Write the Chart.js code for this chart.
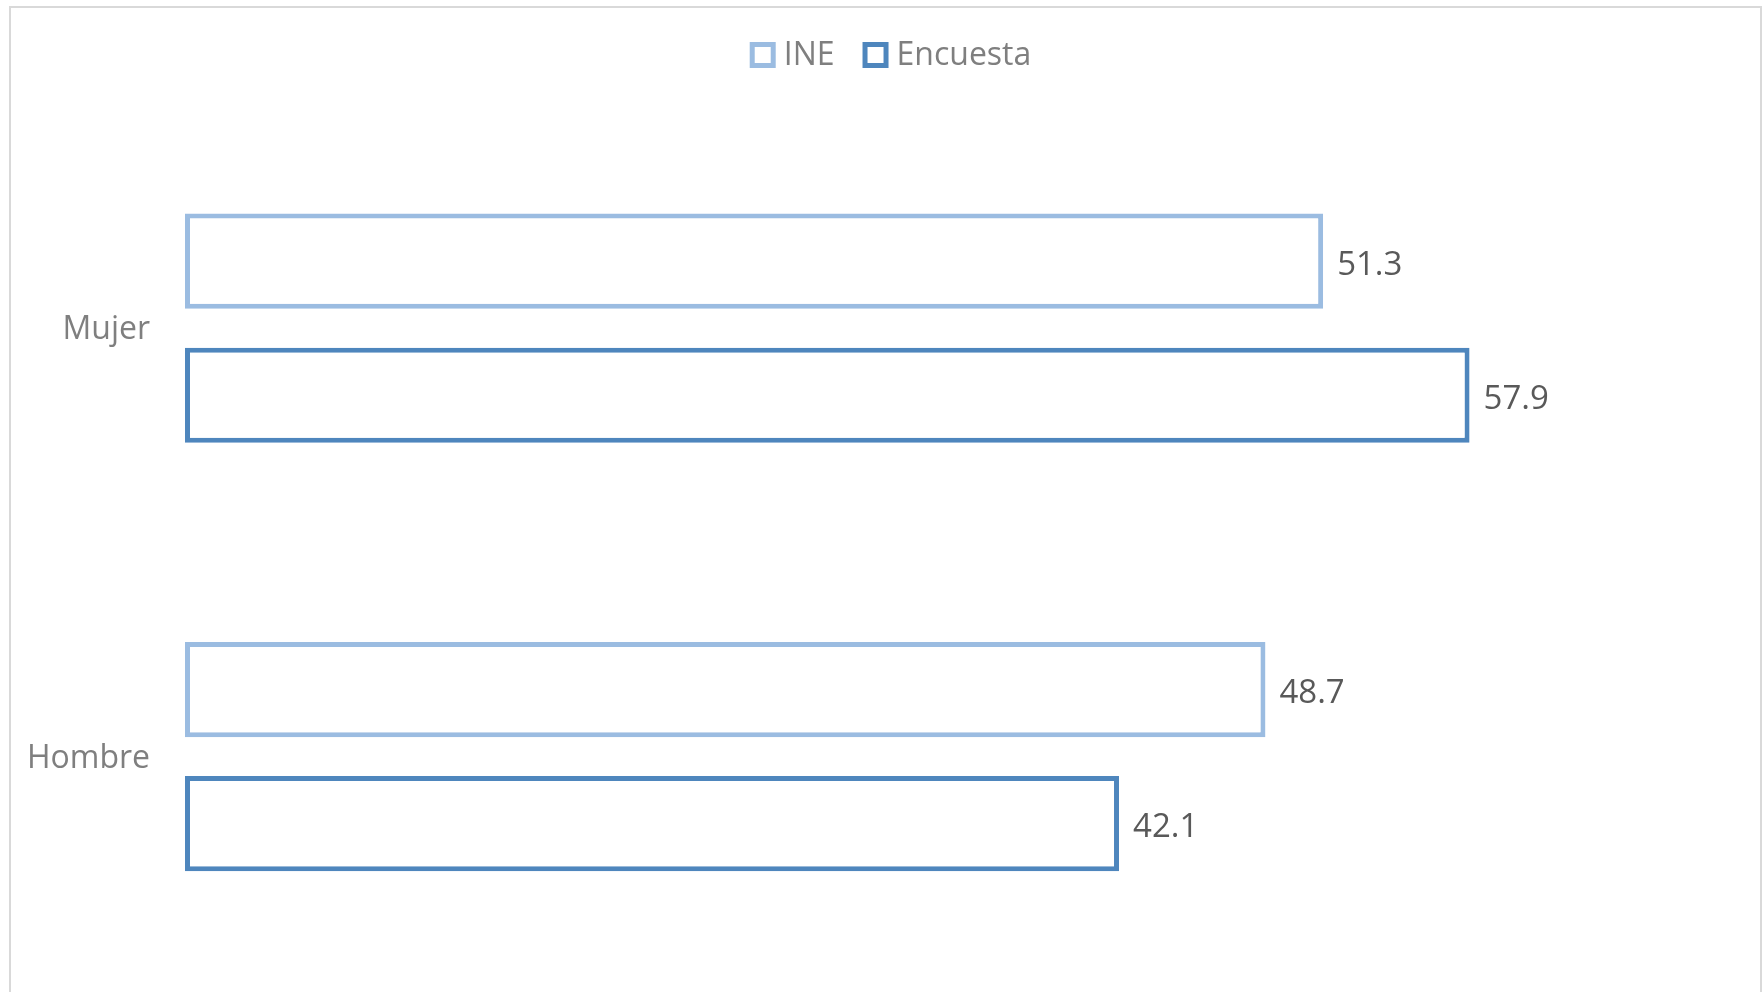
<!DOCTYPE html>
<html lang="es">
<head>
    <meta charset="UTF-8">
    <title>INE vs Encuesta</title>
    <style>
        html, body {
            margin: 0;
            padding: 0;
            background: #ffffff;
            overflow: hidden;
        }

        .frame {
            position: absolute;
            left: 9px;
            top: 6px;
            width: 1749px;
            height: 990px;
            border: 2px solid #d9d9d9;
            overflow: hidden;
        }

        canvas {
            display: block;
        }
    </style>
</head>
<body>
    <div class="frame">
        <canvas id="chart" width="1749" height="1017"></canvas>
    </div>

    <script src="https://cdn.jsdelivr.net/npm/chart.js"></script>
    <script>
        const categories = ['Mujer', 'Hombre'];
        const ineValues = [51.3, 48.7];
        const encuestaValues = [57.9, 42.1];

        const FONT = '"Open Sans", sans-serif';

        // etiquetas de valor a la derecha de cada barra
        const valueLabels = {
            id: 'valueLabels',
            afterDatasetsDraw(chart) {
                const ctx = chart.ctx;
                ctx.save();
                ctx.font = '33px ' + FONT;
                ctx.fillStyle = '#595959';
                ctx.textAlign = 'left';
                ctx.textBaseline = 'middle';
                chart.data.datasets.forEach((ds, i) => {
                    chart.getDatasetMeta(i).data.forEach((bar, j) => {
                        ctx.fillText(ds.data[j].toFixed(1), bar.x + 14, bar.y + 4);
                    });
                });
                ctx.restore();
            }
        };

        // leyenda arriba, cuadros huecos como en Excel
        const topLegend = {
            id: 'topLegend',
            afterDraw(chart) {
                const ctx = chart.ctx;
                const box = 21, lw = 5, gap = 8, between = 28;
                ctx.save();
                ctx.font = '32px ' + FONT;
                ctx.textBaseline = 'middle';
                ctx.textAlign = 'left';
                const items = chart.data.datasets.map(ds => ({
                    text: ds.label,
                    color: ds.borderColor,
                    w: box + lw + gap + ctx.measureText(ds.label).width
                }));
                const total = items.reduce((s, it) => s + it.w, 0) + between * (items.length - 1);
                let x = chart.width / 2 + 5 - total / 2;
                const cy = 47;
                items.forEach(it => {
                    ctx.strokeStyle = it.color;
                    ctx.lineWidth = lw;
                    ctx.strokeRect(x + lw / 2, cy - box / 2, box, box);
                    ctx.fillStyle = '#7f7f7f';
                    ctx.fillText(it.text, x + box + lw + gap, cy + 1);
                    x += it.w + between;
                });
                ctx.restore();
            }
        };

        new Chart(document.getElementById('chart'), {
            type: 'bar',
            data: {
                labels: categories,
                datasets: [{
                    label: 'INE',
                    data: ineValues,
                    backgroundColor: '#ffffff',
                    borderColor: '#9bbce1',
                    borderWidth: 5,
                    borderSkipped: false
                }, {
                    label: 'Encuesta',
                    data: encuestaValues,
                    backgroundColor: '#ffffff',
                    borderColor: '#4e86bd',
                    borderWidth: 5,
                    borderSkipped: false
                }]
            },
            options: {
                indexAxis: 'y',
                responsive: false,
                animation: false,
                categoryPercentage: 0.626,
                barPercentage: 0.71,
                layout: {
                    padding: { left: 0, right: 22, top: 0, bottom: 0 }
                },
                plugins: {
                    legend: { display: false },
                    tooltip: { enabled: false }
                },
                scales: {
                    x: {
                        position: 'top',
                        min: 0,
                        max: 70,
                        grid: { display: false, drawTicks: false },
                        border: { display: false },
                        ticks: { display: false },
                        afterFit(scale) {
                            scale.height = 106;
                        }
                    },
                    y: {
                        grid: { display: false, drawTicks: false },
                        border: { display: false },
                        ticks: {
                            font: { family: FONT, size: 32 },
                            color: '#7f7f7f',
                            padding: 35,
                            labelOffset: 2
                        },
                        afterFit(scale) {
                            scale.width = 174;
                        }
                    }
                }
            },
            plugins: [valueLabels, topLegend]
        });
    </script>
</body>
</html>
